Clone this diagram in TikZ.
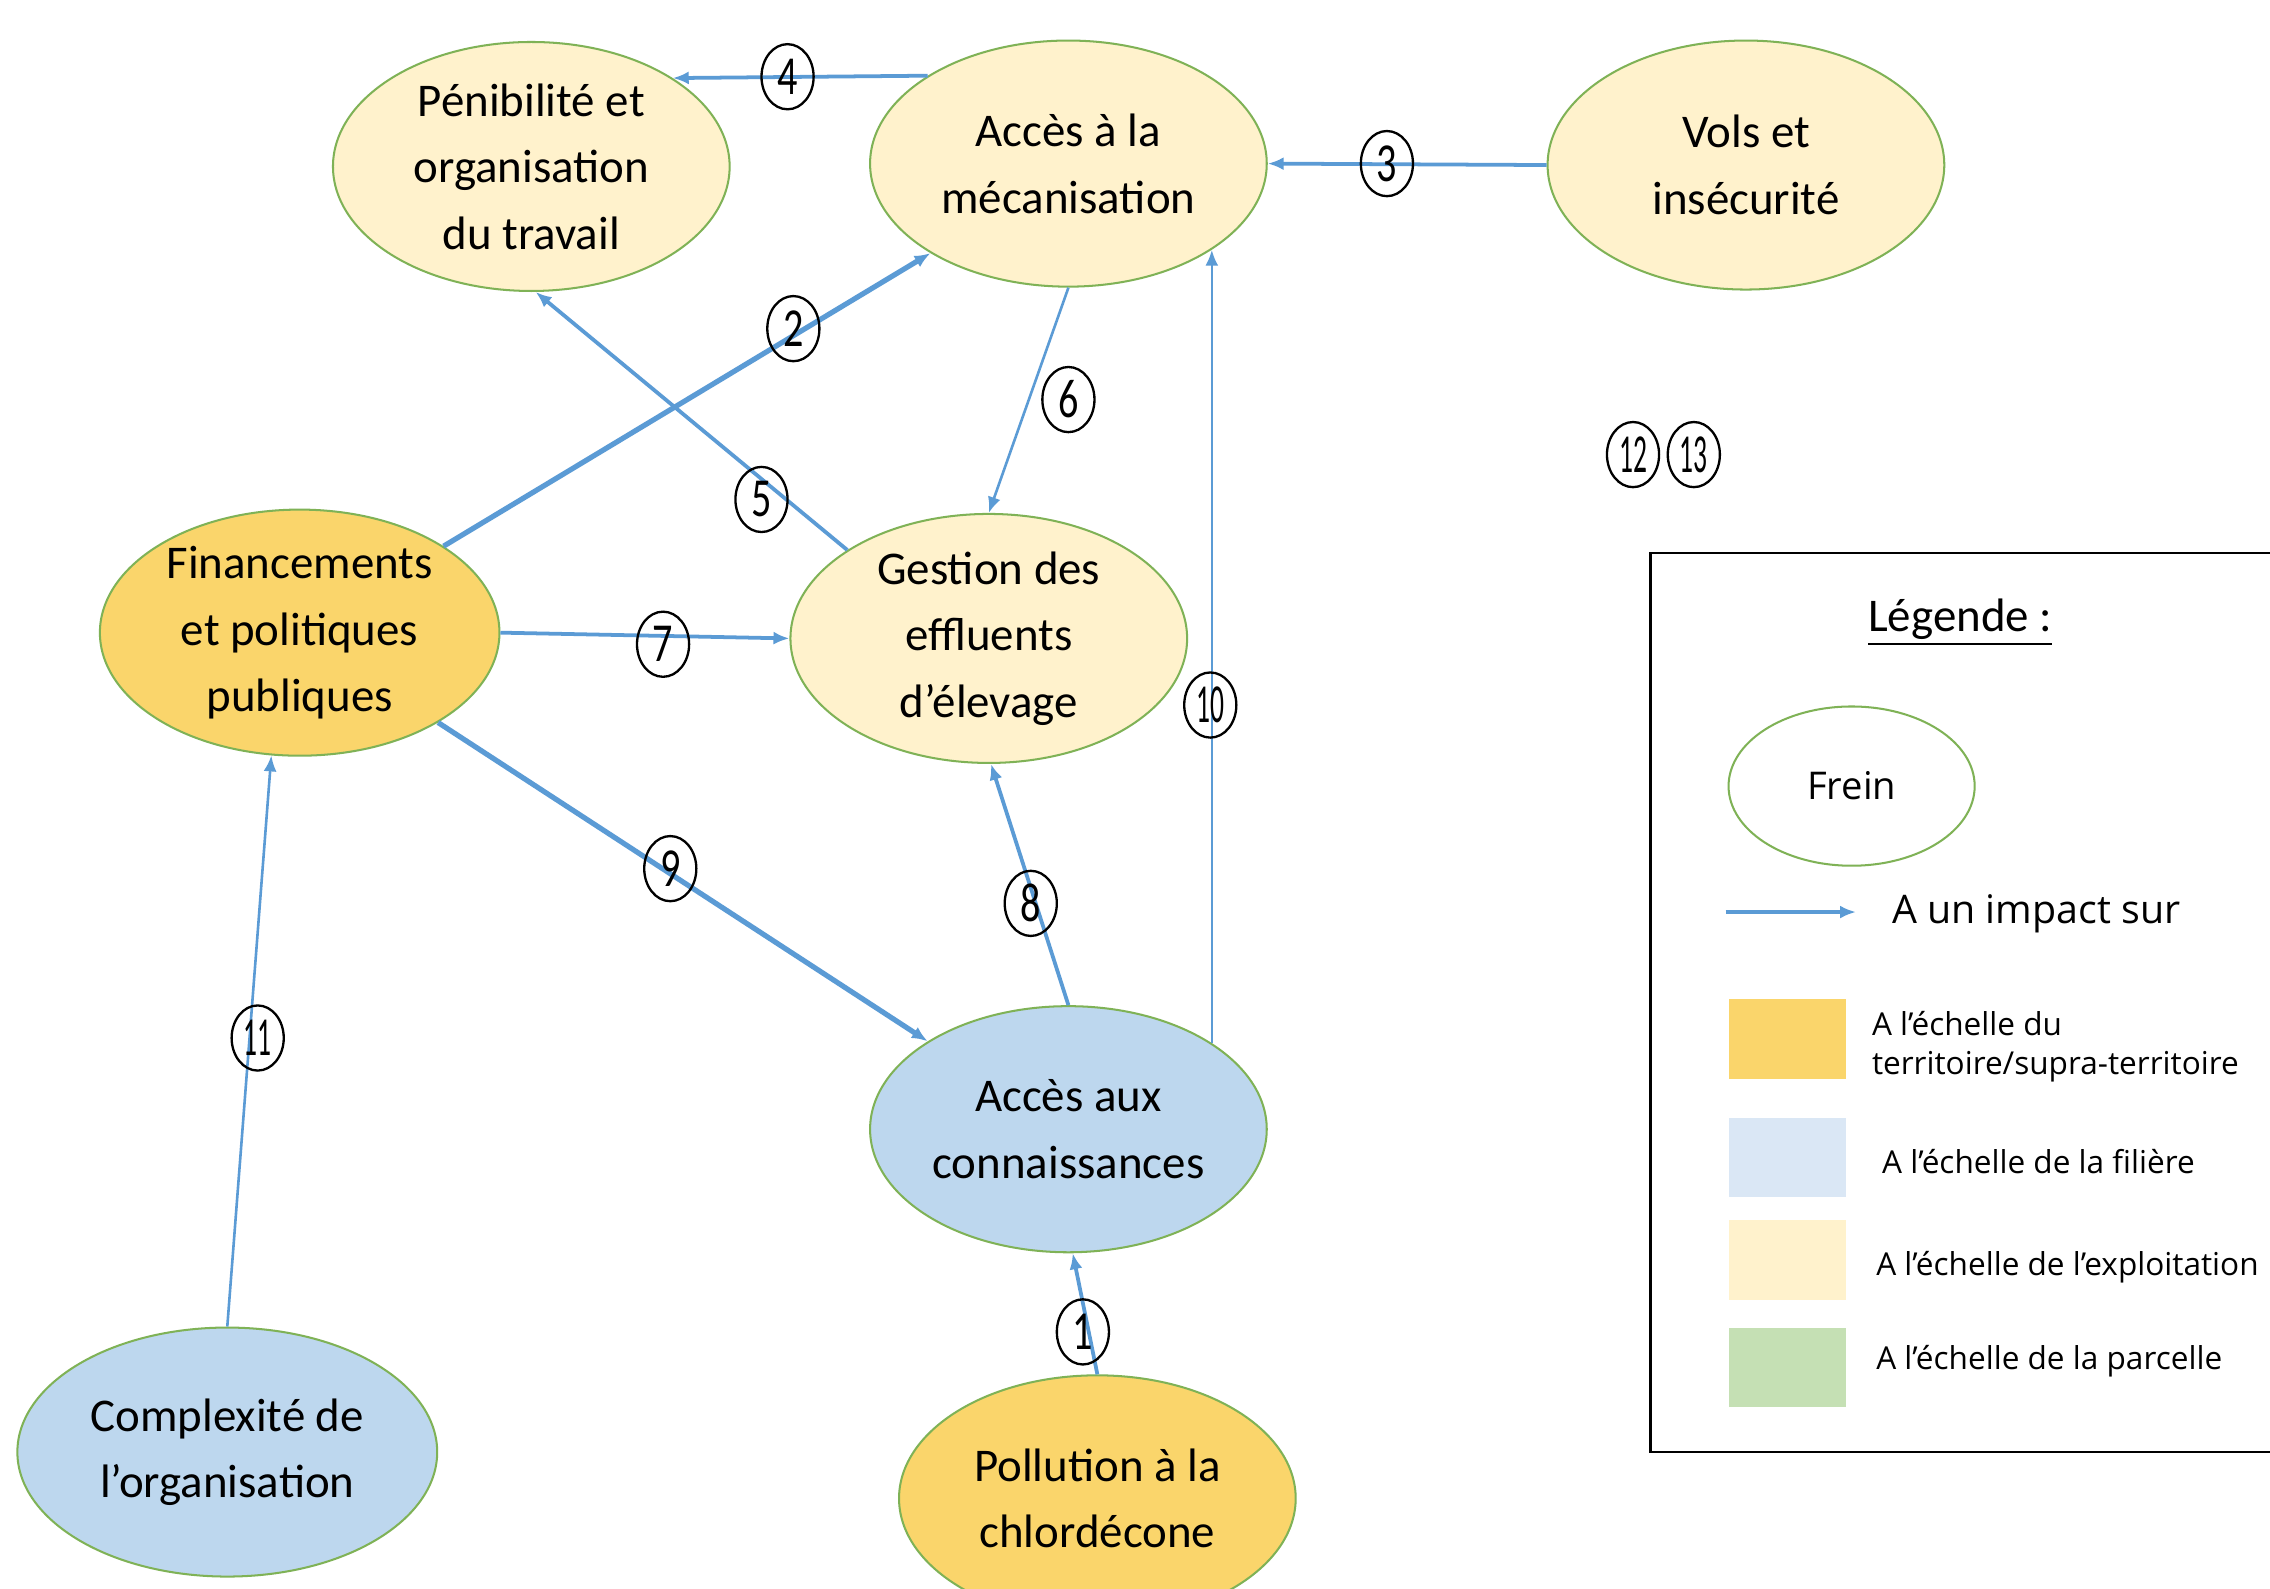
\documentclass[tikz,border=0pt]{standalone}
\usepackage{fontspec}
\setmainfont{Carlito}
\newfontfamily\legfont{Open Sans}
\usetikzlibrary{shapes.geometric,arrows.meta}
\definecolor{ctyell}{HTML}{FAD56B}
\definecolor{ctblue}{HTML}{BDD7EE}
\definecolor{ctcream}{HTML}{FFF2CC}
\definecolor{ctlblue}{HTML}{DAE7F5}
\definecolor{ctgreen}{HTML}{C5E0B4}
\definecolor{ctborder}{HTML}{7FB256}
\definecolor{ctarrow}{HTML}{5B9BD5}
\newcommand{\cnum}[2][0.73]{\scalebox{#1}[1]{#2}}
\tikzset{
  frein/.style={ellipse, draw=ctborder, line width=0.7pt, inner sep=0pt,
    minimum width=137pt, minimum height=86pt, align=center,
    font=\fontsize{16.2}{23}\selectfont},
  impact/.style={draw=ctarrow, line width=1.3pt, -{Latex[length=5.5pt,width=4.5pt]}},
  thick impact/.style={impact, line width=1.8pt},
  thin impact/.style={impact, line width=0.9pt},
  num/.style={ellipse, draw=black, line width=0.8pt, inner sep=0pt,
    minimum width=18pt, minimum height=22.5pt, font=\fontsize{19}{19}\selectfont},
  swatch/.style={draw=none, minimum width=40.5pt, minimum height=27.5pt, inner sep=0pt},
  legtext/.style={anchor=west, font=\legfont\fontsize{10.9}{13.5}\selectfont, align=left}
}
\begin{document}
\begin{tikzpicture}[x=0.5pt,y=-0.5pt]
\useasboundingbox (0,0) rectangle (1568,1097);
\clip (0,0) rectangle (1568,1097);
\fill[white] (0,0) rectangle (1568,1097);

% main nodes
\node[frein, fill=ctcream] (peni) at (367,115) {Pénibilité et\\organisation\\du travail};
\node[frein, fill=ctcream, minimum height=85pt] (meca) at (738,113) {Accès à la\\mécanisation};
\node[frein, fill=ctcream] (vols) at (1206,114) {Vols et\\insécurité};
\node[frein, fill=ctyell, minimum width=138pt, minimum height=85pt] (fin) at (207,437) {Financements\\et politiques\\publiques};
\node[frein, fill=ctcream] (gest) at (683,441) {Gestion des\\effluents\\d’élevage};
\node[frein, fill=ctblue, minimum height=85pt] (conn) at (738,780) {Accès aux\\connaissances};
\node[frein, fill=ctblue, minimum width=145pt] (comp) at (157,1003) {Complexité de\\l’organisation};
\node[frein, fill=ctyell, minimum height=85pt] (poll) at (758,1035) {Pollution à la\\chlordécone};

% connectors
\draw[impact] (poll.90) -- (conn.-88);
\draw[thick impact] (fin.31) -- (meca.213);
\draw[impact] (vols.180) -- (meca.0);
\draw[impact] (meca.148) -- (peni.32);
\draw[impact] (gest.148) -- (peni.-88);
\draw[thin impact] (meca.-90) -- (gest.90);
\draw[impact] (fin.0) -- (gest.180);
\draw[impact] (conn.90) -- (gest.-89);
\draw[thick impact] (fin.-33) -- (conn.148);
\draw[thin impact] (conn.31.2) -- (meca.-31.2);
\draw[thin impact] (comp.90) -- (fin.-103);

% circled numbers
\node[num] (n1) at (748,920) {\cnum{1}};
\node[num] (n2) at (548,227) {\cnum{2}};
\node[num] (n3) at (958,113) {\cnum{3}};
\node[num] (n4) at (544,53) {\cnum{4}};
\node[num] (n5) at (526,345) {\cnum{5}};
\node[num] (n6) at (738,276) {\cnum{6}};
\node[num] (n7) at (458,445) {\cnum{7}};
\node[num] (n8) at (712,624) {\cnum{8}};
\node[num] (n9) at (463,600) {\cnum{9}};
\node[num] (n10) at (836,487) {\cnum[0.5]{10}};
\node[num] (n11) at (178,717) {\cnum[0.5]{11}};
\node[num] (n12) at (1128,314) {\cnum[0.5]{12}};
\node[num] (n13) at (1170,314) {\cnum[0.5]{13}};

% legend
\draw[black, line width=0.8pt] (1140,382) rectangle (1620,1003);
\node[font=\fontsize{16.2}{20}\selectfont] (legt) at (1354,430) {\underline{Légende :}};
\node[frein, fill=white, minimum width=85pt, minimum height=55pt,
  font=\legfont\fontsize{13.2}{16}\selectfont] (lfrein) at (1279,543) {Frein};
\coordinate (la) at (1192,630);
\coordinate (lb) at (1282,630);
\draw[impact, line width=1.1pt] (la) -- (lb);
\node[anchor=west, font=\legfont\fontsize{13.6}{16}\selectfont] (limp) at (1300,631) {A un impact sur};
\node[swatch, fill=ctyell] (s1) at (1234.5,717.5) {};
\node[swatch, fill=ctlblue] (s2) at (1234.5,799.5) {};
\node[swatch, fill=ctcream] (s3) at (1234.5,870.5) {};
\node[swatch, fill=ctgreen] (s4) at (1234.5,944.5) {};
\node[legtext] (t1) at (1286,723) {A l’échelle du\\territoire/supra-territoire};
\node[legtext] (t2) at (1293,802) {A l’échelle de la filière};
\node[legtext] (t3) at (1289,875) {A l’échelle de l’exploitation};
\node[legtext] (t4) at (1289,940) {A l’échelle de la parcelle};
\end{tikzpicture}
\end{document}
